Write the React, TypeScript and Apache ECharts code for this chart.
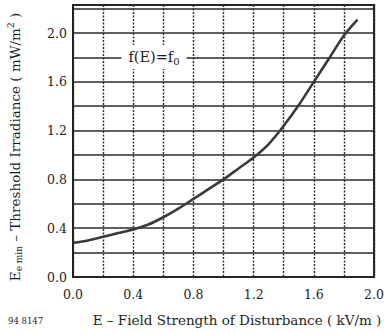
import React, { useEffect, useRef } from "react";
import * as echarts from "echarts";

// Field strength of disturbance E (kV/m)
const fieldStrength = [0, 0.1, 0.2, 0.3, 0.4, 0.5, 0.6, 0.7, 0.8, 0.9, 1.0, 1.1, 1.2, 1.3, 1.4, 1.5, 1.6, 1.7, 1.8, 1.89];
// Threshold irradiance Ee min (mW/m²)
const irradiance = [0.28, 0.3, 0.33, 0.36, 0.39, 0.43, 0.49, 0.56, 0.64, 0.72, 0.8, 0.89, 0.98, 1.09, 1.24, 1.41, 1.6, 1.79, 1.98, 2.11];

const xTickLabels = ["0.0", "0.4", "0.8", "1.2", "1.6", "2.0"];
const yTickLabels = ["0.0", "0.4", "0.8", "1.2", "1.6", "2.0"];

const FONT = "'DejaVu Serif', serif";
const INK = "#1e1e1e";

const fmt = (v: number, labels: string[]) => {
  const s = v.toFixed(1);
  return labels.includes(s) && Math.abs(v - parseFloat(s)) < 1e-6 ? s : "";
};

export default function App() {
  const ref = useRef<HTMLDivElement>(null);

  useEffect(() => {
    if (!ref.current) return;
    const chart = echarts.init(ref.current, undefined, { renderer: "svg" });
    const points = fieldStrength.map((e, i) => [e, irradiance[i]]);

    chart.setOption({
      animation: false,
      backgroundColor: "#ffffff",
      grid: {
        left: 73,
        right: 8,
        top: 5,
        bottom: 57,
        show: true,
        borderColor: INK,
        borderWidth: 2,
        backgroundColor: "transparent",
      },
      xAxis: {
        type: "value",
        min: 0,
        max: 2.0,
        interval: 0.2,
        axisLine: { show: false },
        axisTick: { show: false },
        axisLabel: {
          margin: 11,
          fontFamily: FONT,
          fontSize: 12.5,
          color: INK,
          formatter: (v: number) => fmt(v, xTickLabels),
        },
        splitLine: {
          show: true,
          lineStyle: { color: "#2a2a2a", width: 1.4, type: [2, 1.5] },
        },
      },
      yAxis: {
        type: "value",
        min: 0,
        max: 2.23,
        interval: 0.2,
        axisLine: { show: false },
        axisTick: { show: false },
        axisLabel: {
          margin: 6,
          fontFamily: FONT,
          fontSize: 12.5,
          color: INK,
          formatter: (v: number) => fmt(v, yTickLabels),
        },
        splitLine: {
          show: true,
          lineStyle: { color: "#2a2a2a", width: 1.6, type: "solid" },
        },
      },
      series: [
        {
          type: "line",
          data: points,
          smooth: 0.3,
          showSymbol: false,
          lineStyle: { color: "#3a3a3a", width: 2.6 },
          z: 5,
        },
      ],
      graphic: [
        {
          type: "text",
          x: 154,
          y: 57,
          z: 10,
          style: {
            text: "{a|f(E)=f}{s|0}",
            align: "center",
            verticalAlign: "middle",
            backgroundColor: "#ffffff",
            padding: [3, 7, 3, 7],
            rich: {
              a: { fontFamily: FONT, fontSize: 14.5, fill: INK, lineHeight: 18 },
              s: { fontFamily: FONT, fontSize: 10, fill: INK, verticalAlign: "bottom", lineHeight: 18, padding: [5, 0, 0, 0] },
            },
          },
        },
        {
          type: "text",
          x: 15,
          y: 147,
          rotation: Math.PI / 2,
          style: {
            text: "{a|E}{s|e min}{a| – Threshold Irradiance ( mW/m}{p|2}{a| )}",
            align: "center",
            verticalAlign: "middle",
            rich: {
              a: { fontFamily: FONT, fontSize: 13.5, fill: INK, lineHeight: 17 },
              s: { fontFamily: FONT, fontSize: 9, fill: INK, verticalAlign: "bottom", lineHeight: 17, padding: [5, 0, 0, 0] },
              p: { fontFamily: FONT, fontSize: 9, fill: INK, verticalAlign: "top", lineHeight: 17, padding: [0, 0, 5, 0] },
            },
          },
        },
        {
          type: "text",
          x: 237,
          y: 320,
          style: {
            text: "E – Field Strength of Disturbance ( kV/m )",
            align: "center",
            verticalAlign: "middle",
            fontFamily: FONT,
            fontSize: 13.5,
            fill: INK,
          },
        },
        {
          type: "text",
          x: 8,
          y: 321,
          style: {
            text: "94 8147",
            align: "left",
            verticalAlign: "middle",
            fontFamily: FONT,
            fontSize: 8.5,
            fill: INK,
          },
        },
      ],
    });

    return () => chart.dispose();
  }, []);

  return (
    <div
      ref={ref}
      style={{ position: "fixed", left: 0, top: 0, width: 387, height: 334 }}
    />
  );
}
